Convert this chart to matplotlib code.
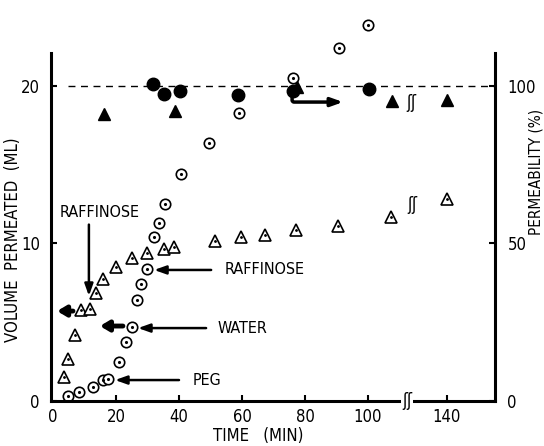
import numpy as np
import matplotlib
matplotlib.use('Agg')
import matplotlib.pyplot as plt

plt.rcParams['font.family'] = ['DejaVu Sans']
plt.rcParams['font.stretch'] = 'condensed'

# open circles: volume of water permeated (ML)
water_t = [4.9, 8.3, 12.8, 16.0, 17.6, 20.9, 23.2, 25.0, 26.8, 28.0, 29.8,
           32.2, 33.7, 35.6, 40.6, 49.5, 59.0, 76.1, 90.8, 99.9]
water_v = [0.34, 0.59, 0.91, 1.31, 1.38, 2.46, 3.72, 4.72, 6.41, 7.41, 8.38,
           10.4, 11.3, 12.5, 14.4, 16.4, 18.3, 20.5, 22.4, 23.9]

# open triangles: volume of raffinose solution permeated (ML)
raff_t = [3.6, 4.9, 6.9, 8.8, 11.8, 13.7, 16.0, 19.9, 25.0, 29.7, 35.1, 38.4,
          51.3, 59.8, 67.3, 77.1, 90.4, 107.3, 140]
raff_v = [1.54, 2.65, 4.17, 5.76, 5.86, 6.86, 7.77, 8.51, 9.08, 9.38, 9.65,
          9.78, 10.18, 10.39, 10.56, 10.86, 11.11, 11.7, 12.83]

# filled circles: water permeability (%)
wperm_t = [31.8, 35.2, 40.2, 58.7, 76.1, 100.4]
wperm_p = [100.5, 97.4, 98.5, 97.1, 98.5, 98.9]

# filled triangles: raffinose permeability (%)
rperm_t = [16.3, 38.7, 77.5, 107.5, 140]
rperm_p = [91.1, 92.2, 99.8, 95.2, 95.6]

x_ticks = [0, 20, 40, 60, 80, 100, 140]
x_tick_labels = ['0', '20', '40', '60', '80', '100', '140']

# broken time axis: compress everything after the break
BRK = 112
K = 0.464


def fwd(t):
    t = np.asarray(t, float)
    return np.where(t <= BRK, t, BRK + (t - BRK) * K)


def inv(u):
    u = np.asarray(u, float)
    return np.where(u <= BRK, u, BRK + (u - BRK) / K)


fig = plt.figure(figsize=(5.44, 4.46), dpi=100)
ax = fig.add_axes([51 / 544, 45 / 446, 444 / 544, 401 / 446])
ax.set_xscale('function', functions=(fwd, inv))
ax.set_xlim(-0.63, 173)
ax.set_ylim(0, 25.46)

ax2 = ax.twinx()
ax2.set_ylim(0, 25.46 * 5)

for a in (ax, ax2):
    a.spines['top'].set_visible(False)
    for s in a.spines.values():
        s.set_linewidth(2.2)
ax.spines['right'].set_visible(False)
ax2.spines['left'].set_visible(False)
ax2.spines['bottom'].set_visible(False)
ax.spines['left'].set_bounds(0, 22.1)
ax2.spines['right'].set_bounds(0, 22.1 * 5)

ax.set_xticks(x_ticks)
ax.set_xticklabels(x_tick_labels)
ax.xaxis.get_major_ticks()[0].tick1line.set_visible(False)
ax.set_yticks([0, 10, 20])
ax2.set_yticks([0, 50, 100])
ax.tick_params(axis='both', direction='in', length=4, width=1.5, labelsize=12)
ax.tick_params(axis='y', pad=8)
ax.tick_params(axis='x', pad=5)
ax2.tick_params(axis='y', direction='in', length=4, width=1.5, labelsize=12, pad=9)

# reference line at 100 %
ax.axhline(20, xmin=0.038, xmax=1, color='black', lw=1, dashes=(5, 4))

# permeability (right axis)
ax2.plot(rperm_t, rperm_p, '^', color='black', ms=8, zorder=3)
ax2.plot(wperm_t, wperm_p, 'o', color='black', ms=9, zorder=4)

# volumes (left axis)
ax.plot(raff_t, raff_v, '^', mfc='white', mec='black', mew=1.2, ms=8, clip_on=False)
ax.plot(raff_t, raff_v, '.', color='black', ms=2, clip_on=False)
ax.plot(water_t, water_v, 'o', mfc='white', mec='black', mew=1.2, ms=7.5, clip_on=False)
ax.plot(water_t, water_v, '.', color='black', ms=2.5, clip_on=False)

arr = dict(arrowstyle='-|>,head_length=0.7,head_width=0.25', color='black', lw=1.8,
           shrinkA=0, shrinkB=0)
thick = dict(arrowstyle='-|>,head_length=0.5,head_width=0.3', color='black', lw=3.5,
             shrinkA=0, shrinkB=0)

ax.text(14.9, 11.95, 'RAFFINOSE', ha='center', va='center', fontsize=11.5)
ax.annotate('', xy=(11.4, 6.67), xytext=(11.4, 11.2), arrowprops=arr)
ax.annotate('', xy=(1.3, 5.71), xytext=(6.35, 5.71), arrowprops=thick)
ax.annotate('', xy=(14.9, 4.76), xytext=(22.2, 4.76), arrowprops=thick)

ax.annotate('', xy=(27.0, 4.63), xytext=(48.6, 4.63), arrowprops=arr)
ax.text(52.1, 4.63, 'WATER', va='center', fontsize=11.5)
ax.annotate('', xy=(32.1, 8.32), xytext=(50.2, 8.32), arrowprops=arr)
ax.text(54.6, 8.32, 'RAFFINOSE', va='center', fontsize=11.5)
ax.annotate('', xy=(19.7, 1.33), xytext=(40.0, 1.33), arrowprops=arr)
ax.text(44.4, 1.33, 'PEG', va='center', fontsize=11.5)

ax.annotate('', xy=(92.1, 18.98), xytext=(75.9, 19.45),
            arrowprops=dict(arr, lw=2.5, connectionstyle='angle,angleA=90,angleB=0,rad=2'))

# axis break marks
for xf, yf in [(0.811, 0.743), (0.813, 0.489)]:
    ax.text(xf, yf, 'ʃʃ', transform=ax.transAxes, ha='center', va='center',
            fontsize=12)
ax.text(0.802, 0.0, 'ʃʃ', transform=ax.transAxes, ha='center', va='center',
        fontsize=12, clip_on=False, zorder=5,
        bbox=dict(facecolor='white', edgecolor='none', pad=0.5))

fig.text(13 / 544, 1 - 240 / 446, 'VOLUME  PERMEATED  (ML)', rotation=90,
         ha='center', va='center', fontsize=12)
fig.text(536 / 544, 1 - 172 / 446, 'PERMEABILITY (%)', rotation=90,
         ha='center', va='center', fontsize=11)
fig.text(258 / 544, 1 - 436 / 446, 'TIME   (MIN)', ha='center', va='center',
         fontsize=12)

fig.savefig('out.png', dpi=100)
